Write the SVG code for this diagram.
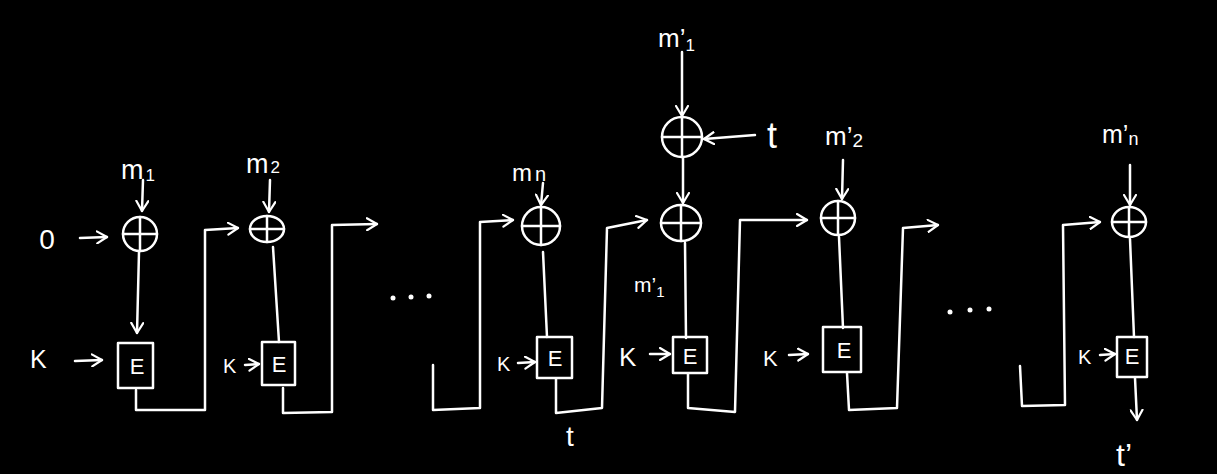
<svg xmlns="http://www.w3.org/2000/svg" width="1217" height="474" viewBox="0 0 1217 474">
<defs>
<style>
.s{fill:none;stroke:#fff;stroke-width:2.5;stroke-linecap:round;stroke-linejoin:round}
.t{fill:#fff;font-family:"Liberation Sans","DejaVu Sans",sans-serif}
.e{fill:#fff;font-family:"Liberation Sans","DejaVu Sans",sans-serif;font-size:22px;text-anchor:middle}
.d{fill:#fff}
</style>
<marker id="a" viewBox="0 0 12 14" refX="11" refY="7" markerWidth="12" markerHeight="14" markerUnits="userSpaceOnUse" orient="auto">
<path d="M1,1 L11,7 L1,13" fill="none" stroke="#fff" stroke-width="2.2" stroke-linecap="round" stroke-linejoin="round"/>
</marker>
</defs>
<rect width="1217" height="474" fill="#000"/>

<g id="connectors" class="s">
<path d="M80,238 L107,237" marker-end="url(#a)"/>
<path d="M143,180 L142,211" marker-end="url(#a)"/>
<path d="M139,252 L137,333" marker-end="url(#a)"/>
<path d="M75,361 L102,360" marker-end="url(#a)"/>
<path d="M136,390 L136,410 L205,410 L205,230 L238,228" marker-end="url(#a)"/>
<path d="M270,180 L269,212" marker-end="url(#a)"/>
<path d="M273,247 L279,342"/>
<path d="M245,365 L259,364" marker-end="url(#a)"/>
<path d="M283,388 L283,413 L332,412 L332,225 L377,224" marker-end="url(#a)"/>
<path d="M433,365 L433,410 L480,408 L480,222 L513,220" marker-end="url(#a)"/>
<path d="M543,183 L541,205" marker-end="url(#a)"/>
<path d="M543,252 L547,337"/>
<path d="M518,363 L535,362" marker-end="url(#a)"/>
<path d="M556,379 L556,413 L602,408 L607,228 L647,220" marker-end="url(#a)"/>
<path d="M682,52 L682,116" marker-end="url(#a)"/>
<path d="M755,135 L704,139" marker-end="url(#a)"/>
<path d="M683,158 L683,203" marker-end="url(#a)"/>
<path d="M685,243 L686,338"/>
<path d="M650,354 L670,354" marker-end="url(#a)"/>
<path d="M688,374 L688,408 L735,412 L740,220 L807,220" marker-end="url(#a)"/>
<path d="M843,160 L842,199" marker-end="url(#a)"/>
<path d="M839,237 L843,328"/>
<path d="M789,355 L808,354" marker-end="url(#a)"/>
<path d="M847,373 L849,410 L897,408 L903,228 L938,225" marker-end="url(#a)"/>
<path d="M1020,366 L1022,406 L1065,405 L1063,225 L1100,222" marker-end="url(#a)"/>
<path d="M1130,165 L1130,205" marker-end="url(#a)"/>
<path d="M1130,239 L1134,337"/>
<path d="M1100,355 L1115,354" marker-end="url(#a)"/>
<path d="M1135,378 L1137,420" marker-end="url(#a)"/>
</g>

<g id="iv"><text class="t" x="47" y="249" font-size="28" text-anchor="middle">0</text></g>

<g id="xor1" class="s"><circle cx="140" cy="234" r="17"/><path d="M123,234 H157 M140,217 V251"/></g>
<g id="m1"><text class="t" x="121" y="179" font-size="27">m<tspan font-size="17" dx="2" dy="2">1</tspan></text></g>
<g id="k1"><text class="t" x="30" y="368" font-size="25">K</text></g>
<g id="e1"><rect class="s" x="118" y="343" width="35" height="45"/><text class="e" x="137" y="374">E</text></g>

<g id="xor2" class="s"><ellipse cx="267" cy="229" rx="17" ry="13"/><path d="M250,229 H284 M267,216 V242"/></g>
<g id="m2"><text class="t" x="246" y="173" font-size="27">m<tspan font-size="17" dx="2">2</tspan></text></g>
<g id="k2"><text class="t" x="223" y="373" font-size="20">K</text></g>
<g id="e2"><rect class="s" x="262" y="342" width="33" height="43"/><text class="e" x="279" y="372">E</text></g>

<g id="dots1"><circle class="d" cx="393" cy="298" r="2.5"/><circle class="d" cx="411" cy="297" r="2.5"/><circle class="d" cx="429" cy="296" r="2.5"/></g>

<g id="xorn" class="s"><circle cx="541" cy="226" r="19"/><path d="M522,226 H560 M541,207 V245"/></g>
<g id="mn"><text class="t" x="512" y="181" font-size="24">m<tspan font-size="20" dx="3">n</tspan></text></g>
<g id="kn"><text class="t" x="497" y="371" font-size="20">K</text></g>
<g id="en"><rect class="s" x="537" y="337" width="35" height="41"/><text class="e" x="555" y="366">E</text></g>
<g id="tn"><text class="t" x="570" y="446" font-size="28" text-anchor="middle">t</text></g>

<g id="xortop" class="s"><circle cx="682" cy="137" r="20"/><path d="M662,137 H702 M682,117 V157"/></g>
<g id="mp1top"><text class="t" x="658" y="47" font-size="26">m’<tspan font-size="17" dy="4">1</tspan></text></g>
<g id="tin"><text class="t" x="772" y="148" font-size="36" text-anchor="middle">t</text></g>
<g id="xorp1" class="s"><ellipse cx="681" cy="223" rx="20" ry="18"/><path d="M661,223 H701 M681,205 V241"/></g>
<g id="mp1mid"><text class="t" x="634" y="292" font-size="21">m’<tspan font-size="15" dy="5">1</tspan></text></g>
<g id="kp1"><text class="t" x="619" y="366" font-size="26">K</text></g>
<g id="ep1"><rect class="s" x="673" y="337" width="34" height="36"/><text class="e" x="690" y="364">E</text></g>

<g id="xorp2" class="s"><circle cx="838" cy="218" r="17"/><path d="M821,218 H855 M838,201 V235"/></g>
<g id="mp2"><text class="t" x="825" y="145" font-size="26">m’<tspan font-size="19" dy="2">2</tspan></text></g>
<g id="kp2"><text class="t" x="763" y="366" font-size="22">K</text></g>
<g id="ep2"><rect class="s" x="823" y="327" width="38" height="45"/><text class="e" x="844" y="358">E</text></g>

<g id="dots2"><circle class="d" cx="950" cy="312" r="2.5"/><circle class="d" cx="970" cy="310" r="2.5"/><circle class="d" cx="989" cy="309" r="2.5"/></g>

<g id="xorpn" class="s"><ellipse cx="1129" cy="222" rx="17" ry="15"/><path d="M1112,222 H1146 M1129,207 V237"/></g>
<g id="mpn"><text class="t" x="1102" y="143" font-size="25">m’<tspan font-size="18" dy="2">n</tspan></text></g>
<g id="kpn"><text class="t" x="1078" y="364" font-size="20">K</text></g>
<g id="epn"><rect class="s" x="1117" y="337" width="30" height="40"/><text class="e" x="1132" y="364" font-size="18">E</text></g>
<g id="tout"><text class="t" x="1116" y="466" font-size="32">t’</text></g>
</svg>
